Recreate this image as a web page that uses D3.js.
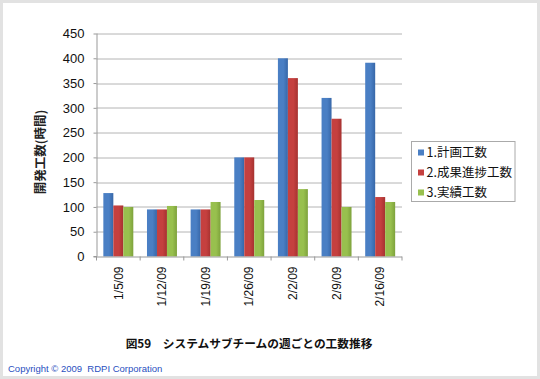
<!DOCTYPE html>
<html>
<head>
<meta charset="utf-8">
<script src="https://cdn.jsdelivr.net/npm/d3@7"></script>
<style>
  body { margin: 0; background: #fff; }
  text { font-family: "Liberation Sans", Arial, sans-serif; }
  .jp { font-family: "Noto Sans CJK JP", sans-serif; }
</style>
</head>
<body>
<div class="svg-container"></div>
<script>
// data
const weeks = ['1/5/09', '1/12/09', '1/19/09', '1/26/09', '2/2/09', '2/9/09', '2/16/09'];
const seriesNames = ['1.計画工数', '2.成果進捗工数', '3.実績工数'];
const planned = [128, 95, 95, 200, 400, 320, 391];
const progress = [103, 95, 95, 200, 360, 278, 120];
const actual = [100, 102, 110, 114, 136, 100, 110];
const yTicks = [0, 50, 100, 150, 200, 250, 300, 350, 400, 450];

const colors = ['#4a7fc4', '#c5403f', '#98c04e'];
const darks = ['#3767a8', '#a63230', '#7ea23c'];

const W = 540, H = 379;
const margin = {top: 33.5, right: 138, bottom: 122.5, left: 96.5};
const width = W - margin.left - margin.right;
const height = H - margin.top - margin.bottom;

const svg = d3.select('.svg-container')
    .append('svg')
    .attr('width', W)
    .attr('height', H);

// outer frame
svg.append('rect')
    .attr('x', 1.5).attr('y', 1.5)
    .attr('width', W - 3).attr('height', H - 3)
    .attr('fill', '#fff')
    .attr('stroke', '#e2e2e2')
    .attr('stroke-width', 3);

const defs = svg.append('defs');
colors.forEach(function(c, i) {
  const gr = defs.append('linearGradient')
      .attr('id', 'grad' + i)
      .attr('x1', '0%').attr('x2', '100%').attr('y1', '0%').attr('y2', '0%');
  gr.append('stop').attr('offset', '0%').attr('stop-color', c);
  gr.append('stop').attr('offset', '55%').attr('stop-color', c);
  gr.append('stop').attr('offset', '100%').attr('stop-color', darks[i]);
});

const g = svg.append('g')
    .attr('transform', `translate(${margin.left}, ${margin.top})`);

const x = d3.scaleBand()
    .domain(weeks)
    .range([0, width])
    .padding(0);

const x1 = d3.scaleBand()
    .domain([0, 1, 2])
    .range([0, x.bandwidth()])
    .paddingInner(0)
    .paddingOuter(0.685);

const y = d3.scaleLinear()
    .domain([0, 450])
    .range([height, 0]);

// gridlines
g.selectAll('.grid')
  .data(yTicks.slice(1))
  .enter().append('line')
    .attr('class', 'grid')
    .attr('x1', 0).attr('x2', width)
    .attr('y1', d => Math.round(y(d)) + 0.5)
    .attr('y2', d => Math.round(y(d)) + 0.5)
    .attr('stroke', '#b4b4b4')
    .attr('stroke-width', 1);

const data = weeks.map(function(w, i) {
  return {week: w, values: [planned[i], progress[i], actual[i]]};
});

g.selectAll('.group')
  .data(data)
  .enter().append('g')
    .attr('class', 'group')
    .attr('transform', d => `translate(${x(d.week)},0)`)
  .selectAll('rect')
  .data(d => d.values.map((v, k) => ({k: k, v: v})))
  .enter().append('rect')
    .attr('x', d => x1(d.k))
    .attr('y', d => y(d.v))
    .attr('width', x1.bandwidth())
    .attr('height', d => y(0) - y(d.v))
    .attr('fill', d => `url(#grad${d.k})`);

// y axis
const yAxis = g.append('g')
    .call(d3.axisLeft(y).tickValues(yTicks).tickSize(3).tickPadding(9));
yAxis.select('.domain').attr('stroke', '#999').attr('d', `M-3,${height}H0.5V0`);
yAxis.selectAll('.tick line').attr('stroke', '#999');
yAxis.selectAll('text')
    .attr('font-size', 13)
    .attr('fill', '#111')
    .style('font-family', '"Liberation Sans", Arial, sans-serif');

// x axis
const xAxis = g.append('g')
    .attr('transform', `translate(0,${height})`)
    .call(d3.axisBottom(x).tickSize(0));
xAxis.select('.domain').attr('stroke', '#999').attr('d', `M0,0.5H${width}`);
xAxis.selectAll('.tick text')
    .attr('transform', 'rotate(-90)')
    .attr('text-anchor', 'end')
    .attr('x', -10)
    .attr('y', 0)
    .attr('dy', '0.35em')
    .attr('font-size', 12)
    .attr('fill', '#111');
xAxis.selectAll('.sep')
  .data(d3.range(weeks.length + 1))
  .enter().append('line')
    .attr('class', 'sep')
    .attr('x1', i => i * x.step()).attr('x2', i => i * x.step())
    .attr('y1', 0).attr('y2', 4)
    .attr('stroke', '#999');

// y axis title
svg.append('text')
    .attr('class', 'jp')
    .attr('transform', 'translate(45,152) rotate(-90)')
    .attr('text-anchor', 'middle')
    .attr('font-size', 12.5)
    .attr('font-weight', 'bold')
    .attr('fill', '#222')
    .text('開発工数(時間)');

// legend
const legend = svg.append('g')
    .attr('transform', 'translate(411.5,141.5)');
legend.append('rect')
    .attr('width', 103.5).attr('height', 60)
    .attr('fill', '#fff')
    .attr('stroke', '#aaa');
const li = legend.selectAll('.legend')
  .data(seriesNames)
  .enter().append('g')
    .attr('class', 'legend')
    .attr('transform', (d, i) => `translate(0,${11 + i * 20})`);
li.append('rect')
    .attr('x', 6.5).attr('y', -3)
    .attr('width', 6).attr('height', 6)
    .attr('fill', (d, i) => colors[i]);
li.append('text')
    .attr('class', 'jp')
    .attr('x', 15)
    .attr('dy', '0.36em')
    .attr('font-size', 12.5)
    .attr('fill', '#111')
    .text(d => d);

// title
svg.append('text')
    .attr('class', 'jp')
    .attr('x', 249).attr('y', 344)
    .attr('dy', '0.36em')
    .attr('text-anchor', 'middle')
    .attr('font-size', 11.7)
    .attr('font-weight', 'bold')
    .attr('fill', '#111')
    .text('図59　システムサブチームの週ごとの工数推移');

svg.append('text')
    .attr('x', 8).attr('y', 369)
    .attr('dy', '0.35em')
    .attr('font-size', 9.5)
    .attr('fill', '#2a4fc0')
    .style('white-space', 'pre')
    .text('Copyright © 2009  RDPI Corporation');
</script>
</body>
</html>
